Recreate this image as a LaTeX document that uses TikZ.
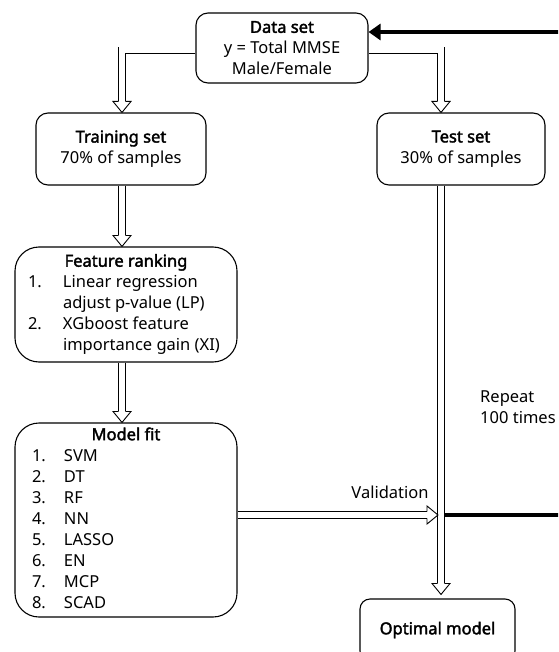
\documentclass[tikz,border=0pt]{standalone}
\usepackage{fontspec}
\setmainfont{Noto Sans}[AutoFakeBold=2.2]
\usetikzlibrary{calc,arrows.meta}
\tikzset{
  box/.style={draw=black, line width=1.1pt, rounded corners=12pt, align=center, inner sep=0pt},
  bigbox/.style={draw=black, line width=1.1pt, rounded corners=24pt, inner sep=0pt},
  hshaft/.style={draw=black, line width=0.9pt, double=white, double distance=6pt, line join=miter},
  hhead/.pic={\draw[fill=white, line width=0.9pt, line join=miter] (-11,3.45) -- (-11,9) -- (0,0) -- (-11,-9) -- (-11,-3.45);},
  loopline/.style={draw=black, line width=4pt, -{Triangle[length=12pt,width=16pt]}},
  lbl/.style={inner sep=0pt}
}
\begin{document}
\begin{tikzpicture}[x=1pt,y=1pt,font=\fontsize{16.5}{21}\selectfont]
\useasboundingbox (0,0) rectangle (558,-652);
\clip (0,0) rectangle (558,-652);

\node[box, minimum width=172, minimum height=70] (data) at (282,-48) {\textbf{Data set}\\y = Total MMSE\\Male/Female};
\node[box, minimum width=170, minimum height=72] (train) at (121,-149) {\textbf{Training set}\\70\% of samples};
\node[box, minimum width=168, minimum height=72] (test) at (461,-149) {\textbf{Test set}\\30\% of samples};
\node[bigbox, minimum width=222, minimum height=115] (feat) at (126,-304.5) {%
\begin{tabular}{@{}p{35pt}@{}p{161pt}@{}}
\multicolumn{2}{@{}c@{}}{\textbf{Feature ranking}}\\
1. & Linear regression\\
   & adjust p-value (LP)\\
2. & XGboost feature\\
   & importance gain (XI)
\end{tabular}};
\node[bigbox, minimum width=222, minimum height=194] (model) at (126,-520) {%
\begin{tabular}{@{}p{32pt}@{}p{156pt}@{}}
\multicolumn{2}{@{}c@{}}{\textbf{Model fit}}\\
1. & SVM\\
2. & DT\\
3. & RF\\
4. & NN\\
5. & LASSO\\
6. & EN\\
7. & MCP\\
8. & SCAD
\end{tabular}};
\node[box, rounded corners=10pt, minimum width=155, minimum height=62] (opt) at (437.5,-630) {\textbf{Optimal model}};

\coordinate (cl) at (122,0);
\coordinate (cr) at (441,0);
\coordinate (vy) at ($(model.east)+(0,5)$);

% thick repeat loop
\draw[loopline] ($(vy -| cr)+(3.9,0)$) -- (580,-515) |- ($(data.east)+(0,16)$);

% hollow arrows
\draw[hshaft] ($(data.west)+(0,-2.5)$) -| ($(cl |- train.north)+(0,11)$);
\pic[rotate=-90] at (cl |- train.north) {hhead};
\draw[hshaft] ($(data.east)+(0,-2.5)$) -| ($(cr |- test.north)+(0,11)$);
\pic[rotate=-90] at (cr |- test.north) {hhead};
\draw[hshaft] (cl |- train.south) -- ($(cl |- feat.north)+(0,11)$);
\pic[rotate=-90] at (cl |- feat.north) {hhead};
\draw[hshaft] (cl |- feat.south) -- ($(cl |- model.north)+(0,11)$);
\pic[rotate=-90] at (cl |- model.north) {hhead};
\draw[hshaft] (cr |- test.south) -- ($(cr |- opt.north)+(0,15)$);
\pic[rotate=-90] at ($(cr |- opt.north)+(0,4)$) {hhead};
\draw[hshaft] (vy) -- ($(vy -| cr)+(-14,0)$);
\pic at ($(vy -| cr)+(-3,0)$) {hhead};

\node[lbl] (val) at (390,-492) {Validation};
\node[lbl, anchor=north west, align=left] (rep) at (480,-391) {Repeat\\100 times};
\end{tikzpicture}
\end{document}
